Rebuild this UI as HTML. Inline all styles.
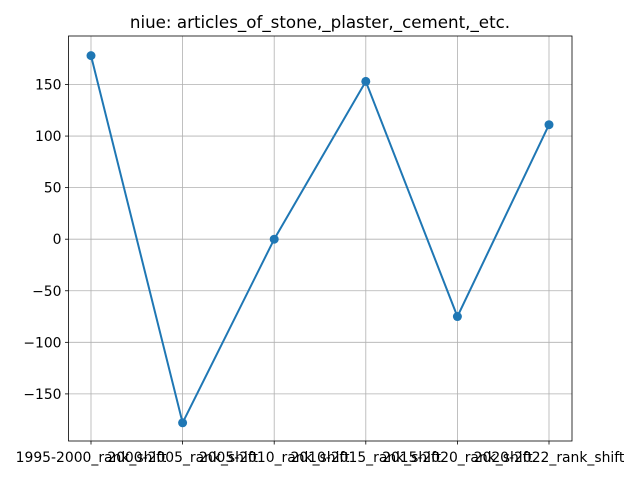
<!DOCTYPE html>
<html><head><meta charset="utf-8"><style>body{margin:0;background:#fff}svg{display:block;font-family:"DejaVu Sans","Liberation Sans",sans-serif}</style></head>
<body>
<svg id="c" width="640" height="480" xmlns="http://www.w3.org/2000/svg"></svg>
<script>
const categories=["1995-2000_rank_shift","2000-2005_rank_shift","2005-2010_rank_shift","2010-2015_rank_shift","2015-2020_rank_shift","2020-2022_rank_shift"];
const values=[178,-178,0,153,-75,111];
const yTicks=[-150,-100,-50,0,50,100,150];
const L=68.5,R=572,T=36,B=441;
const x0=91,dx=91.6;
function xs(i){return x0+i*dx;}
function ys(v){return 239.2-v*(154.7/300*2);}
const ns="http://www.w3.org/2000/svg",s=document.getElementById('c');
function el(t,a,p){const e=document.createElementNS(ns,t);for(const k in a)e.setAttribute(k,a[k]);(p||s).appendChild(e);return e;}
const title=el('text',{x:320,y:28,'text-anchor':'middle','font-size':16.7,fill:'#000'});title.textContent="niue: articles_of_stone,_plaster,_cement,_etc.";


categories.forEach((c,i)=>{const x=xs(i);
 const g=el('line',{x1:x,x2:x,y1:T,y2:B,stroke:'#b0b0b0','stroke-width':0.8});
 
 
 el('line',{x1:x,x2:x,y1:B,y2:B+3.5,stroke:'#000','stroke-width':0.8});
 const t=el('text',{x:x,y:462,'text-anchor':'middle','font-size':13.9,fill:'#000'});t.textContent=c;
 
 
});
yTicks.forEach(v=>{const y=ys(v);
 const g=el('line',{x1:L,x2:R,y1:y,y2:y,stroke:'#b0b0b0','stroke-width':0.8});
 
 
 el('line',{x1:L-3.5,x2:L,y1:y,y2:y,stroke:'#000','stroke-width':0.8});
 const t=el('text',{x:L-7,y:y+5,'text-anchor':'end','font-size':13.9,fill:'#000'});t.textContent=v<0?'\u2212'+(-v):v;
 
 
});
const line=el('polyline',{points:values.map((v,i)=>xs(i)+','+ys(v)).join(' '),fill:'none',stroke:'#1f77b4','stroke-width':2});


values.forEach((v,i)=>{const p=el('circle',{cx:xs(i),cy:ys(v),r:4.5,fill:'#1f77b4'});
 
 
});
const f=el('rect',{x:L,y:T,width:R-L,height:B-T,fill:'none',stroke:'#000','stroke-width':0.8});


</script>
</body></html>
